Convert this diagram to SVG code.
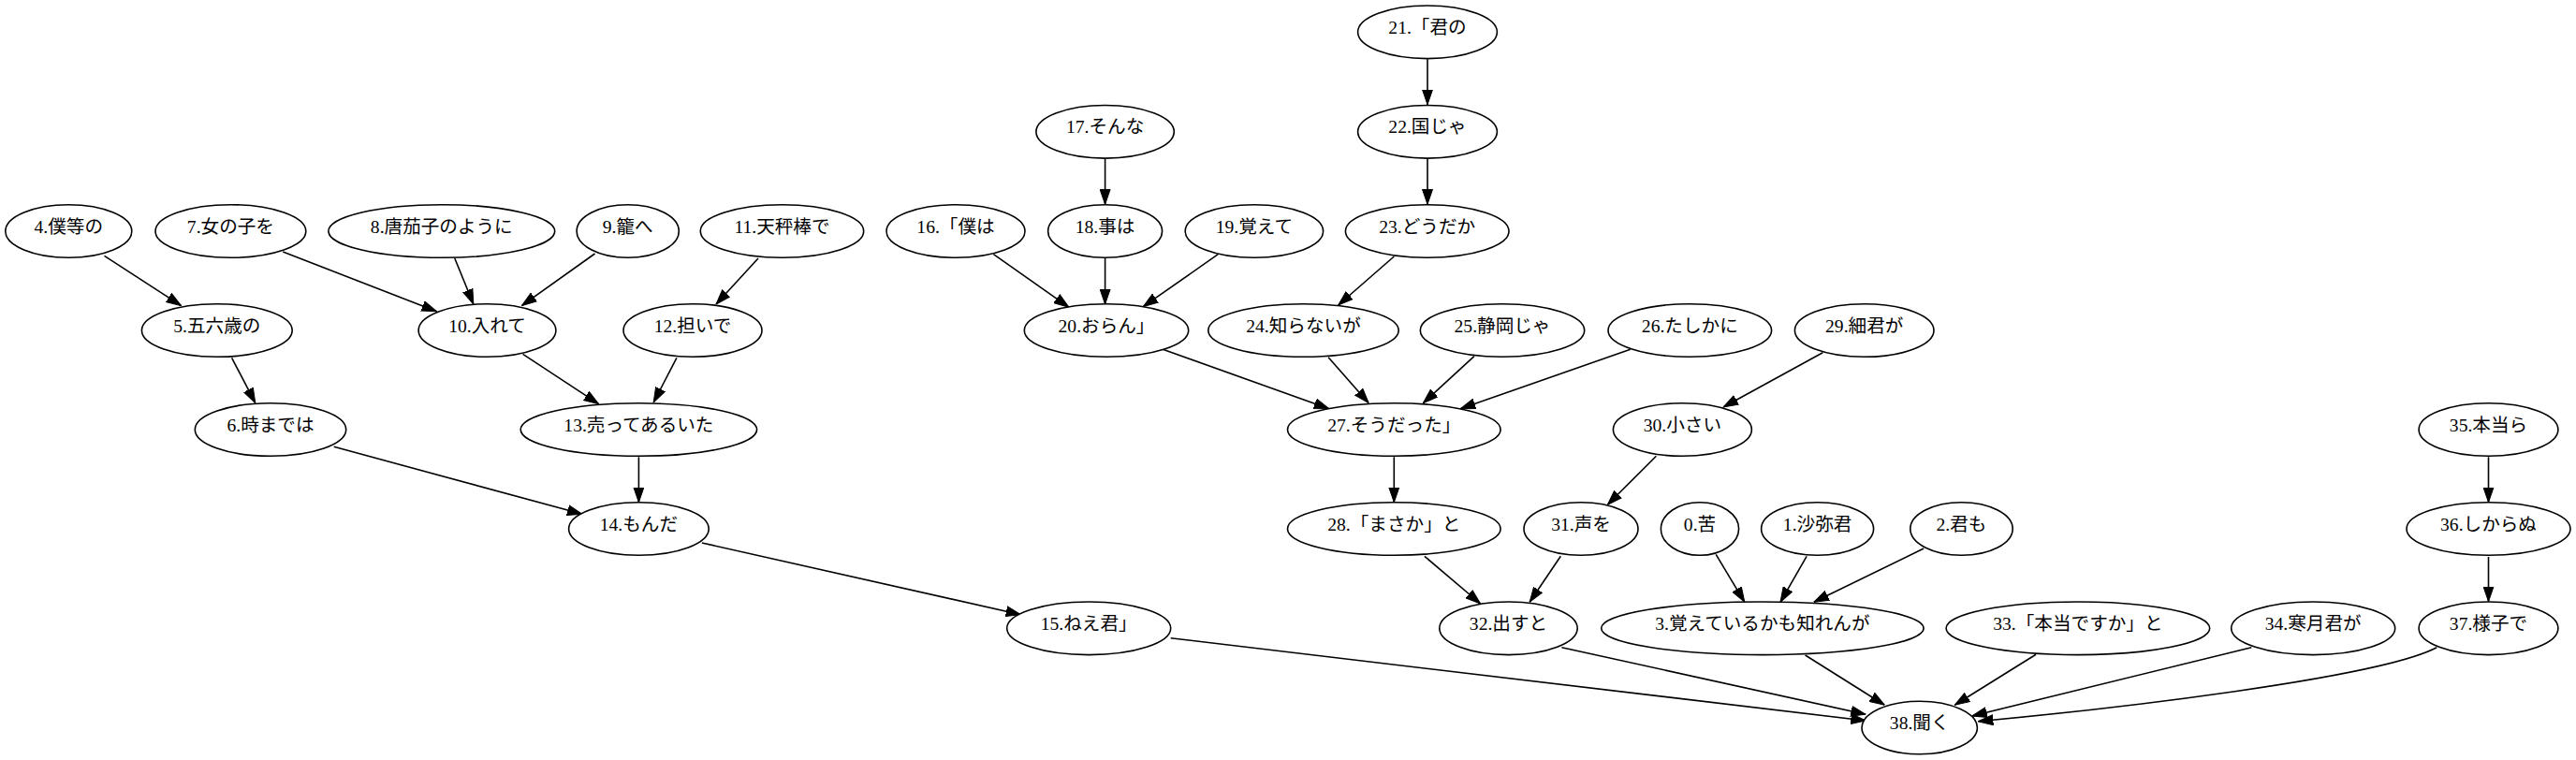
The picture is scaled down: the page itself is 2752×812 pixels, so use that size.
<svg xmlns="http://www.w3.org/2000/svg" width="2752" height="812" viewBox="0 0 2752 812">
<style>
.n ellipse{fill:#fff;stroke:#000;stroke-width:1.6}
.n text{font-family:"Liberation Serif","Noto Sans CJK JP",serif;font-size:19.6px;text-anchor:middle;fill:#000}
#edges path{fill:none;stroke:#000;stroke-width:1.6;marker-end:url(#ah)}
</style>
<defs>
<marker id="ah" markerUnits="userSpaceOnUse" markerWidth="16" markerHeight="12" viewBox="0 0 16 12" refX="16" refY="6" orient="auto"><path d="M0,0.5 L16,6 L0,11.5 z" fill="#000" stroke="#000" stroke-width="1"/></marker>
</defs>
<rect width="2752" height="812" fill="#fff"/>
<g id="edges">
<path d="M111.5,273.3 L193.6,326.7"/>
<path d="M302.2,269 L466.5,332.7"/>
<path d="M485.8,276 L505.8,325"/>
<path d="M635.5,271 L557.4,326.7"/>
<path d="M810,276 L765,325"/>
<path d="M247.6,382.3 L272.8,430.7"/>
<path d="M558.6,378.3 L639.6,431.7"/>
<path d="M722.9,382.3 L698.2,430"/>
<path d="M356.7,477.3 L622,549.3"/>
<path d="M682.4,488.3 L682.4,536.7"/>
<path d="M749.9,580 L1090.7,656.7"/>
<path d="M1525,63.3 L1525,111.7"/>
<path d="M1525,170 L1525,218.3"/>
<path d="M1180.6,170 L1180.6,218.3"/>
<path d="M1061.4,271.7 L1142,328.3"/>
<path d="M1180.6,276 L1180.6,325"/>
<path d="M1301.3,271.7 L1221.3,327.7"/>
<path d="M1489.3,274 L1429.7,326"/>
<path d="M1242.3,373.3 L1419.9,436.7"/>
<path d="M1419.1,381.7 L1462.2,430.7"/>
<path d="M1574.9,380.7 L1520.4,430.7"/>
<path d="M1741.8,373.3 L1560.2,436.7"/>
<path d="M1947.3,376.7 L1841,435"/>
<path d="M1489.3,488.3 L1489.3,536.7"/>
<path d="M1769.4,487.3 L1717.3,539.3"/>
<path d="M1521.9,594.3 L1581.6,645"/>
<path d="M1667.3,594.3 L1634.2,643.3"/>
<path d="M1833.2,592.3 L1863.8,643.3"/>
<path d="M1930.1,594.3 L1902,643.3"/>
<path d="M2055.1,586 L1937.8,643.3"/>
<path d="M2658.5,488.3 L2658.5,536.7"/>
<path d="M2658.5,595 L2658.5,642.7"/>
<path d="M1250.7,681.7 L1993.3,770"/>
<path d="M1668.4,691.7 L1993.3,763.3"/>
<path d="M1928.6,700 L2013.3,753.3"/>
<path d="M2175,699.3 L2088.3,753.3"/>
<path d="M2405.3,691.7 L2106.7,765"/>
<path d="M2603.3,691.7 C2540,725 2250,758 2113.3,770.7"/>
</g>
<g id="n0" class="n"><ellipse cx="1816" cy="565" rx="41.6" ry="28.3"/><text x="1816" y="566.5">0.苦</text></g>
<g id="n1" class="n"><ellipse cx="1941.6" cy="565" rx="60" ry="28.3"/><text x="1941.6" y="566.5">1.沙弥君</text></g>
<g id="n2" class="n"><ellipse cx="2095.5" cy="565" rx="54.7" ry="28.3"/><text x="2095.5" y="566.5">2.君も</text></g>
<g id="n3" class="n"><ellipse cx="1882.9" cy="671.3" rx="172.2" ry="28.3"/><text x="1882.9" y="672.8">3.覚えているかも知れんが</text></g>
<g id="n4" class="n"><ellipse cx="73.3" cy="247" rx="67.5" ry="28.3"/><text x="73.3" y="248.5">4.僕等の</text></g>
<g id="n5" class="n"><ellipse cx="231.8" cy="353" rx="80.4" ry="28.3"/><text x="231.8" y="354.5">5.五六歳の</text></g>
<g id="n6" class="n"><ellipse cx="289" cy="459" rx="80.7" ry="28.3"/><text x="289" y="460.5">6.時までは</text></g>
<g id="n7" class="n"><ellipse cx="246.4" cy="247" rx="80.4" ry="28.3"/><text x="246.4" y="248.5">7.女の子を</text></g>
<g id="n8" class="n"><ellipse cx="471.8" cy="247" rx="120.9" ry="28.3"/><text x="471.8" y="248.5">8.唐茄子のように</text></g>
<g id="n9" class="n"><ellipse cx="670.7" cy="247" rx="54.6" ry="28.3"/><text x="670.7" y="248.5">9.籠へ</text></g>
<g id="n10" class="n"><ellipse cx="520.5" cy="353" rx="73.4" ry="28.3"/><text x="520.5" y="354.5">10.入れて</text></g>
<g id="n11" class="n"><ellipse cx="835.5" cy="247" rx="87.2" ry="28.3"/><text x="835.5" y="248.5">11.天秤棒で</text></g>
<g id="n12" class="n"><ellipse cx="740" cy="353" rx="74" ry="28.3"/><text x="740" y="354.5">12.担いで</text></g>
<g id="n13" class="n"><ellipse cx="682.4" cy="459" rx="126.2" ry="28.3"/><text x="682.4" y="460.5">13.売ってあるいた</text></g>
<g id="n14" class="n"><ellipse cx="682.4" cy="565" rx="74.8" ry="28.3"/><text x="682.4" y="566.5">14.もんだ</text></g>
<g id="n15" class="n"><ellipse cx="1163.2" cy="671.3" rx="87.5" ry="28.3"/><text x="1163.2" y="672.8">15.ねえ君」</text></g>
<g id="n16" class="n"><ellipse cx="1021" cy="247" rx="74" ry="28.3"/><text x="1021" y="248.5">16.「僕は</text></g>
<g id="n17" class="n"><ellipse cx="1180.6" cy="140.8" rx="73.7" ry="28.3"/><text x="1180.6" y="142.3">17.そんな</text></g>
<g id="n18" class="n"><ellipse cx="1180.6" cy="247" rx="61" ry="28.3"/><text x="1180.6" y="248.5">18.事は</text></g>
<g id="n19" class="n"><ellipse cx="1339.9" cy="247" rx="73.7" ry="28.3"/><text x="1339.9" y="248.5">19.覚えて</text></g>
<g id="n20" class="n"><ellipse cx="1182" cy="353" rx="87.7" ry="28.3"/><text x="1182" y="354.5">20.おらん」</text></g>
<g id="n21" class="n"><ellipse cx="1525" cy="34.3" rx="74.4" ry="28.3"/><text x="1525" y="35.8">21.「君の</text></g>
<g id="n22" class="n"><ellipse cx="1525" cy="140.8" rx="74.4" ry="28.3"/><text x="1525" y="142.3">22.国じゃ</text></g>
<g id="n23" class="n"><ellipse cx="1524.7" cy="247" rx="87.3" ry="28.3"/><text x="1524.7" y="248.5">23.どうだか</text></g>
<g id="n24" class="n"><ellipse cx="1392.5" cy="353" rx="101.7" ry="28.3"/><text x="1392.5" y="354.5">24.知らないが</text></g>
<g id="n25" class="n"><ellipse cx="1605" cy="353" rx="87.7" ry="28.3"/><text x="1605" y="354.5">25.静岡じゃ</text></g>
<g id="n26" class="n"><ellipse cx="1805.3" cy="353" rx="87.3" ry="28.3"/><text x="1805.3" y="354.5">26.たしかに</text></g>
<g id="n27" class="n"><ellipse cx="1489.3" cy="459" rx="113.8" ry="28.3"/><text x="1489.3" y="460.5">27.そうだった」</text></g>
<g id="n28" class="n"><ellipse cx="1489.3" cy="565" rx="113.8" ry="28.3"/><text x="1489.3" y="566.5">28.「まさか」と</text></g>
<g id="n29" class="n"><ellipse cx="1991.7" cy="353" rx="74.3" ry="28.3"/><text x="1991.7" y="354.5">29.細君が</text></g>
<g id="n30" class="n"><ellipse cx="1797.4" cy="459" rx="74" ry="28.3"/><text x="1797.4" y="460.5">30.小さい</text></g>
<g id="n31" class="n"><ellipse cx="1689" cy="565" rx="61" ry="28.3"/><text x="1689" y="566.5">31.声を</text></g>
<g id="n32" class="n"><ellipse cx="1611.5" cy="671.3" rx="73.7" ry="28.3"/><text x="1611.5" y="672.8">32.出すと</text></g>
<g id="n33" class="n"><ellipse cx="2219.9" cy="671.3" rx="140.8" ry="28.3"/><text x="2219.9" y="672.8">33.「本当ですか」と</text></g>
<g id="n34" class="n"><ellipse cx="2471.2" cy="671.3" rx="87.5" ry="28.3"/><text x="2471.2" y="672.8">34.寒月君が</text></g>
<g id="n35" class="n"><ellipse cx="2658.5" cy="459" rx="74.4" ry="28.3"/><text x="2658.5" y="460.5">35.本当ら</text></g>
<g id="n36" class="n"><ellipse cx="2658.5" cy="565" rx="87.5" ry="28.3"/><text x="2658.5" y="566.5">36.しからぬ</text></g>
<g id="n37" class="n"><ellipse cx="2658.5" cy="671.3" rx="74.4" ry="28.3"/><text x="2658.5" y="672.8">37.様子で</text></g>
<g id="n38" class="n"><ellipse cx="2050.7" cy="777.5" rx="61.7" ry="28.3"/><text x="2050.7" y="779">38.聞く</text></g>
</svg>
